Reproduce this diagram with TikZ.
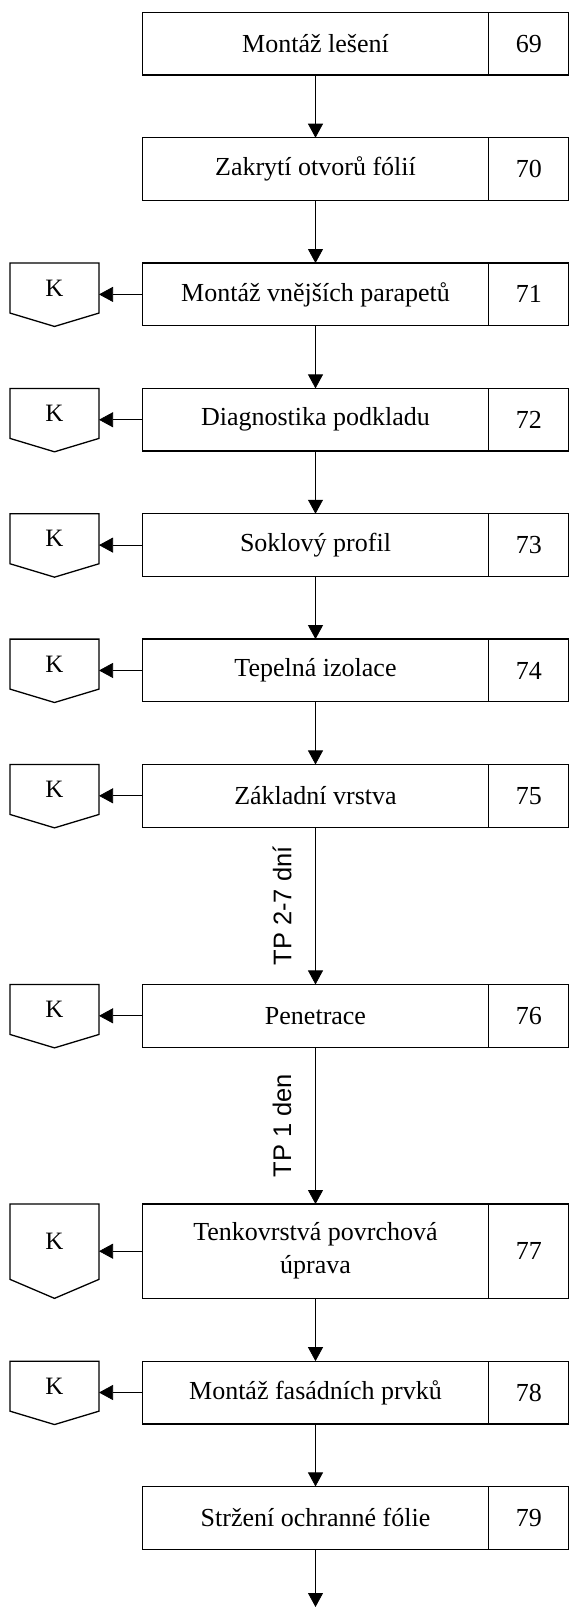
\documentclass[tikz,border=0pt]{standalone}
\usepackage{fontspec}
\setmainfont{Liberation Serif}
\newfontfamily\labelsans{Liberation Sans}
\usetikzlibrary{arrows.meta,calc}

\begin{document}
\begin{tikzpicture}[x=1pt,y=-1pt,
  stepbox/.style={draw, line width=1.3pt, minimum width=346.4pt, minimum height=62.7pt,
    inner sep=0pt, outer sep=0pt, align=center, font=\fontsize{26}{33}\selectfont},
  numbox/.style={draw, line width=1.3pt, minimum width=80.3pt, minimum height=62.7pt,
    inner sep=0pt, outer sep=0pt, anchor=west, font=\fontsize{26}{33}\selectfont},
  kmark/.style={minimum width=89pt, minimum height=50pt, inner sep=0pt, outer sep=0pt,
    anchor=north, font=\fontsize{25}{30}\selectfont},
  kline/.style={line width=1.3pt, line join=miter},
  flow/.style={line width=0.75pt, -{Triangle[length=14pt,width=15pt]}},
  tplabel/.style={midway, xshift=-33.5pt, rotate=90, inner sep=0pt,
    font=\labelsans\fontsize{25.5}{30}\selectfont}
]
\useasboundingbox (0,0) rectangle (568,1607);

% column positions
\coordinate (kcol) at (54.5,0);

% process steps with their numbers
\node[stepbox] (b1)  at (315.5,43.7)   {Montáž lešení};
\node[stepbox] (b2)  at (315.5,169.05) {Zakrytí otvorů fólií};
\node[stepbox] (b3)  at (315.5,294.4)  {Montáž vnějších parapetů};
\node[stepbox] (b4)  at (315.5,419.75) {Diagnostika podkladu};
\node[stepbox] (b5)  at (315.5,545.1)  {Soklový profil};
\node[stepbox] (b6)  at (315.5,670.45) {Tepelná izolace};
\node[stepbox] (b7)  at (315.5,795.8)  {Základní vrstva};
\node[stepbox] (b8)  at (315.5,1015.8) {Penetrace};
\node[stepbox, minimum height=94.3pt] (b9) at (315.5,1251.2) {Tenkovrstvá povrchová\\úprava};
\node[stepbox] (b10) at (315.5,1392.5) {Montáž fasádních prvků};
\node[stepbox] (b11) at (315.5,1517.8) {Stržení ochranné fólie};

\node[numbox] (n1)  at (b1.east)  {69};
\node[numbox] (n2)  at (b2.east)  {70};
\node[numbox] (n3)  at (b3.east)  {71};
\node[numbox] (n4)  at (b4.east)  {72};
\node[numbox] (n5)  at (b5.east)  {73};
\node[numbox] (n6)  at (b6.east)  {74};
\node[numbox] (n7)  at (b7.east)  {75};
\node[numbox] (n8)  at (b8.east)  {76};
\node[numbox, minimum height=94.3pt] (n9) at (b9.east) {77};
\node[numbox] (n10) at (b10.east) {78};
\node[numbox] (n11) at (b11.east) {79};

% inspection marks (K)
\node[kmark] (k3)  at (b3.north -| kcol)  {K};
\node[kmark] (k4)  at (b4.north -| kcol)  {K};
\node[kmark] (k5)  at (b5.north -| kcol)  {K};
\node[kmark] (k6)  at (b6.north -| kcol)  {K};
\node[kmark] (k7)  at (b7.north -| kcol)  {K};
\node[kmark] (k8)  at (b8.north -| kcol)  {K};
\node[kmark, minimum height=75.3pt] (k9) at (b9.north -| kcol) {K};
\node[kmark] (k10) at (b10.north -| kcol) {K};

\foreach \k/\d in {k3/13.4,k4/13.4,k5/13.4,k6/13.4,k7/13.4,k8/13.4,k9/19,k10/13.4}
  \draw[kline] (\k.north west) -- (\k.north east) -- (\k.south east)
    -- ($(\k.south)+(0,\d)$) -- (\k.south west) -- cycle;

% flow between steps
\draw[flow] (b1.south) -- (b2.north);
\draw[flow] (b2.south) -- (b3.north);
\draw[flow] (b3.south) -- (b4.north);
\draw[flow] (b4.south) -- (b5.north);
\draw[flow] (b5.south) -- (b6.north);
\draw[flow] (b6.south) -- (b7.north);
\draw[flow] (b7.south) -- node[tplabel] {TP 2-7 dní} (b8.north);
\draw[flow] (b8.south) -- node[tplabel] {TP 1 den} (b9.north);
\draw[flow] (b9.south) -- (b10.north);
\draw[flow] (b10.south) -- (b11.north);
\coordinate (end) at (b11.south |- 0,1607);
\draw[flow] (b11.south) -- (end);

% links to inspections
\foreach \i in {3,4,5,6,7,8,9,10}
  \draw[flow] (b\i.west) -- (b\i.west -| k\i.east);
\end{tikzpicture}
\end{document}
